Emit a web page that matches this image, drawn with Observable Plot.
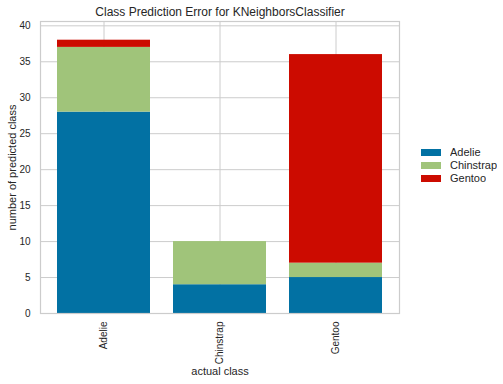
<!DOCTYPE html>
<html>
<head>
<meta charset="utf-8">
<script src="https://cdn.jsdelivr.net/npm/d3@7"></script>
<script src="https://cdn.jsdelivr.net/npm/@observablehq/plot@0.6"></script>
<style>
  html, body { margin: 0; padding: 0; background: #fff; }
  #wrap { position: relative; width: 503px; height: 384px; font-family: "Liberation Sans", Arial, sans-serif; }
  #legend { position: absolute; left: 421px; top: 146px; }
</style>
</head>
<body>
<div id="wrap"><div id="chart"></div><div id="legend"></div></div>
<script>
const actualClasses = ["Adelie", "Chinstrap", "Gentoo"];
const predictedClasses = ["Adelie", "Chinstrap", "Gentoo"];
const predictedAdelie = [28, 4, 5];
const predictedChinstrap = [9, 6, 2];
const predictedGentoo = [1, 0, 29];
const colors = ["#0271a3", "#a0c47a", "#cc0b00"];
const yTicks = [0, 5, 10, 15, 20, 25, 30, 35, 40];

const seriesValues = [predictedAdelie, predictedChinstrap, predictedGentoo];
const rows = [];
predictedClasses.forEach((p, i) => {
  actualClasses.forEach((a, j) => rows.push({actual: a, predicted: p, count: seriesValues[i][j]}));
});

const font = "Liberation Sans, Arial, sans-serif";
const chart = Plot.plot({
  width: 503,
  height: 384,
  marginTop: 21,
  marginBottom: 71,
  marginLeft: 40,
  marginRight: 104,
  style: {fontFamily: font, fontSize: "10px", color: "#262626", background: "#fff"},
  x: {domain: actualClasses, paddingInner: 0.2, paddingOuter: 0.14},
  y: {domain: [0, 40.6]},
  color: {domain: predictedClasses, range: colors},
  marks: [
    Plot.gridY(yTicks, {stroke: "#cccccc", strokeOpacity: 1, strokeWidth: 1}),
    Plot.gridX(actualClasses, {stroke: "#cccccc", strokeOpacity: 1, strokeWidth: 1}),
    Plot.barY(rows, Plot.stackY({x: "actual", y: "count", fill: "predicted", inset: 0})),
    Plot.frame({stroke: "#cccccc", strokeWidth: 1.2}),
    Plot.axisY(yTicks, {tickSize: 0, tickPadding: 10, label: "number of predicted class", labelAnchor: "center", labelArrow: "none", labelOffset: 32, fontSize: 10}),
    Plot.axisX({tickSize: 0, tickRotate: -90, tickPadding: 8, label: "actual class", labelAnchor: "center", labelArrow: "none", labelOffset: 61, fontSize: 10}),
    Plot.text(["Class Prediction Error for KNeighborsClassifier"], {frameAnchor: "top", dy: -14, fontSize: 12, fill: "#262626"})
  ]
});
d3.select(chart).selectAll("[aria-label='y-axis label'] text, [aria-label='x-axis label'] text").style("font-size", "11px");
document.getElementById("chart").appendChild(chart);

const legend = Plot.legend({
  color: {domain: predictedClasses, range: colors},
  legend: "swatches",
  columns: 1,
  swatchWidth: 20,
  swatchHeight: 7,
  style: {fontFamily: font, fontSize: "11px", color: "#262626"}
});
legend.querySelectorAll("svg").forEach(s => { s.style.marginRight = "9px"; });
document.getElementById("legend").appendChild(legend);
</script>
</body>
</html>
